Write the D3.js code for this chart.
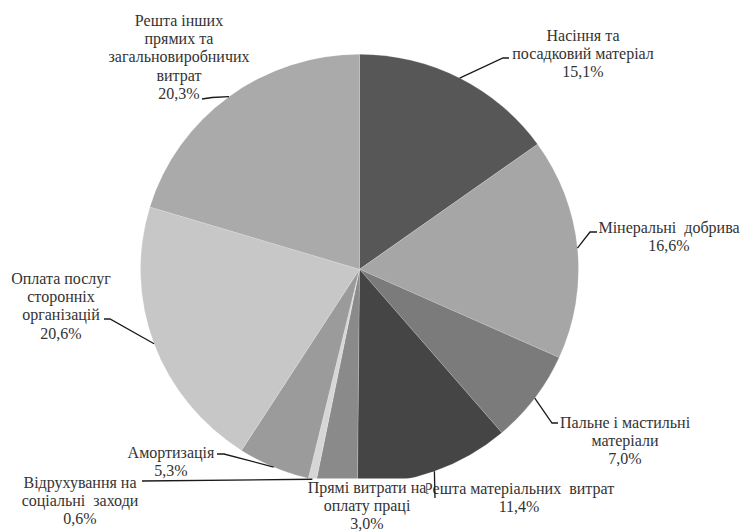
<!DOCTYPE html>
<html><head><meta charset="utf-8">
<script src="https://cdn.jsdelivr.net/npm/d3@7"></script>
<style>body{margin:0;background:#fff}svg{display:block}</style>
</head><body>
<svg id="chart" width="744" height="532"></svg>
<script>
// ---- data ----
const categories = [
  "Насіння та посадковий матеріал",
  "Мінеральні добрива",
  "Пальне і мастильні матеріали",
  "Решта матеріальних витрат",
  "Прямі витрати на оплату праці",
  "Відрахування на соціальні заходи",
  "Амортизація",
  "Оплата послуг сторонніх організацій",
  "Решта інших прямих та загальновиробничих витрат"
];
const values = [15.1, 16.6, 7.0, 11.4, 3.0, 0.6, 5.3, 20.6, 20.3];
const valueLabels = ["15,1%", "16,6%", "7,0%", "11,4%", "3,0%", "0,6%", "5,3%", "20,6%", "20,3%"];
const labelLines = [
  ["Насіння та", "посадковий матеріал"],
  ["Мінеральні  добрива"],
  ["Пальне і мастильні", "матеріали"],
  ["Решта матеріальних  витрат"],
  ["Прямі витрати на", "оплату праці"],
  ["Відрухування на", "соціальні  заходи"],
  ["Амортизація"],
  ["Оплата послуг", "сторонніх", "організацій"],
  ["Решта інших", "прямих та", "загальновиробничих", "витрат"]
];
const colors = ["#575757", "#a6a6a6", "#7b7b7b", "#454545", "#8a8a8a", "#d6d6d6", "#9b9b9b", "#c7c7c7", "#aaaaaa"];

// ---- layout ----
const cx = 359.5, cy = 269.3, rx = 219, ry = 215;
const lineH = 18.4;
const fontCss = '"Liberation Serif", "Times New Roman", serif';
const labelLayout = [
  {x: 583, y: 35,  elbow: [503, 58],  end: [509, 58]},
  {x: 669, y: 227, elbow: [590, 232], end: [597, 232]},
  {x: 625, y: 422, elbow: [552, 423], end: [558, 423]},
  {x: 519, y: 488, elbow: [435, 498], end: null},
  {x: 367, y: 487, elbow: null, end: null},
  {x: 80,  y: 482, elbow: [142, 481], end: null},
  {x: 171, y: 452, elbow: [224, 454], end: [217, 454]},
  {x: 61,  y: 278, elbow: [110, 319], end: [104, 319]},
  {x: 179, y: 20,  elbow: [212, 97.5], end: [202, 99]}
];

const svg = d3.select("#chart");
const pie = d3.pie().sort(null).value(d => d).startAngle(0).endAngle(2 * Math.PI);
const arcs = pie(values);
const arc = d3.arc().innerRadius(0).outerRadius(rx);

const g = svg.append("g").attr("transform", `translate(${cx},${cy}) scale(1,${ry / rx})`);
g.selectAll("path").data(arcs).join("path")
  .attr("d", arc)
  .attr("fill", (d, i) => colors[i])
  .attr("stroke", "#ffffff").attr("stroke-opacity", 0.35).attr("stroke-width", 0.5);

function edgePoint(d) {
  const a = (d.startAngle + d.endAngle) / 2;
  return [cx + rx * Math.sin(a), cy - ry * Math.cos(a)];
}

// labels (with white background like the source)
const labels = svg.append("g");
arcs.forEach((d, i) => {
  const L = labelLayout[i];
  const lines = labelLines[i].concat([valueLabels[i]]);
  const grp = labels.append("g");
  const bg = grp.append("g");
  lines.forEach((s, k) => {
    const t = grp.append("text")
      .style("font-family", fontCss).style("font-size", "16px").style("fill", "#333")
      .attr("x", L.x).attr("y", L.y + k * lineH).attr("dy", "0.35em")
      .attr("text-anchor", "middle").style("white-space", "pre").text(s);
    const b = t.node().getBBox();
    bg.append("rect").attr("x", b.x).attr("y", L.y + k * lineH - 8.5)
      .attr("width", b.width).attr("height", 17).attr("fill", "#fff");
  });
});

// leaders
const leaders = svg.append("g");
arcs.forEach((d, i) => {
  const L = labelLayout[i];
  if (!L.elbow) return;
  const pts = [edgePoint(d), L.elbow];
  if (L.end) pts.push(L.end);
  leaders.append("path")
    .attr("d", d3.line()(pts))
    .attr("fill", "none").attr("stroke", "#1a1a1a").attr("stroke-width", 1.3);
});
</script>
</body></html>
